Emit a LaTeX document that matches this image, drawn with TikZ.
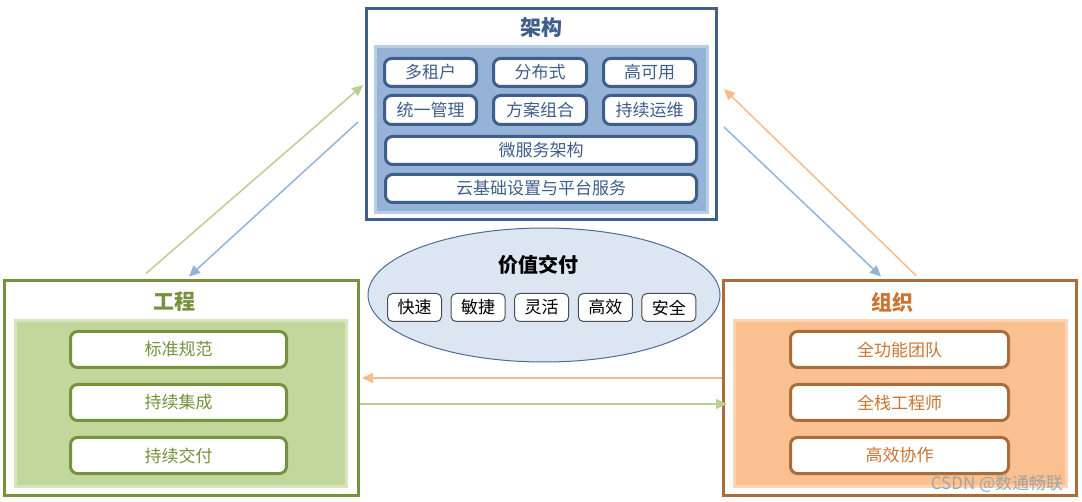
\documentclass[tikz,border=0pt]{standalone}
\usepackage{fontspec}
\setmainfont{Noto Sans CJK SC}
\usetikzlibrary{arrows.meta,positioning,shapes.geometric,calc}

\definecolor{archline}{HTML}{3F5F8A}
\definecolor{archfill}{HTML}{95B3D7}
\definecolor{archedge}{HTML}{B9CDE5}
\definecolor{engline}{HTML}{76923C}
\definecolor{engfill}{HTML}{C3D69B}
\definecolor{engedge}{HTML}{D7E4BD}
\definecolor{orgline}{HTML}{A96C3B}
\definecolor{orgtext}{HTML}{CC7431}
\definecolor{orgfill}{HTML}{FAC090}
\definecolor{orgedge}{HTML}{FCD5B5}
\definecolor{valfill}{HTML}{DCE6F2}
\definecolor{valline}{HTML}{4F6B94}
\definecolor{valgray}{HTML}{4D4D4D}
\definecolor{greenarrow}{HTML}{B9CF93}
\definecolor{bluearrow}{HTML}{95B3D7}
\definecolor{orangearrow}{HTML}{F8BC8C}
\definecolor{markgray}{HTML}{A3A3A3}

\begin{document}
\begin{tikzpicture}[x=1pt,y=-1pt,
  every node/.style={font=\fontsize{17}{20}\selectfont,inner sep=0pt},
  bigbox/.style={draw=#1,line width=3pt,fill=white},
  panelbox/.style={line width=3pt},
  itembox/.style={draw=#1,line width=3pt,fill=white,rounded corners=7pt},
  headtext/.style={text=#1,font=\fontsize{21}{24}\selectfont\bfseries},
  valbox/.style={draw=valgray,line width=1pt,fill=white,rounded corners=5pt,
    minimum width=54pt,minimum height=28pt},
  link/.style={line width=1.5pt,-{Triangle[length=11pt,width=10pt]}}]
  \useasboundingbox (0,0) rectangle (1082,502);

  % 架构
  \node[bigbox=archline,minimum width=350pt,minimum height=211pt] (arch) at (541.5,114) {};
  \node[panelbox,draw=archedge,fill=archfill,minimum width=332pt,minimum height=166pt] (archP) at (541.5,129.5) {};
  \node[headtext=archline] (archT) at (541.5,28) {架构};
  \node[itembox=archline,text=archline,minimum width=92pt,minimum height=28pt] (a1) at (430.5,72.5) {多租户};
  \node[itembox=archline,text=archline,minimum width=93pt,minimum height=28pt] (a2) at (540,72.5) {分布式};
  \node[itembox=archline,text=archline,minimum width=92pt,minimum height=28pt] (a3) at (649.5,72.5) {高可用};
  \node[itembox=archline,text=archline,minimum width=92pt,minimum height=29pt] (a4) at (430.5,110) {统一管理};
  \node[itembox=archline,text=archline,minimum width=93pt,minimum height=29pt] (a5) at (540,110) {方案组合};
  \node[itembox=archline,text=archline,minimum width=92pt,minimum height=29pt] (a6) at (649.5,110) {持续运维};
  \node[itembox=archline,text=archline,minimum width=311pt,minimum height=28pt] (a7) at (541,150.5) {微服务架构};
  \node[itembox=archline,text=archline,minimum width=311pt,minimum height=28pt] (a8) at (541,188.5) {云基础设置与平台服务};

  % 工程
  \node[bigbox=engline,minimum width=354pt,minimum height=214pt] (eng) at (181.5,388) {};
  \node[panelbox,draw=engedge,fill=engfill,minimum width=331pt,minimum height=166pt] (engP) at (181,403.5) {};
  \node[headtext=engline] (engT) at (174,302) {工程};
  \node[itembox=engline,text=engline,minimum width=216pt,minimum height=36pt] (e1) at (178.5,349.5) {标准规范};
  \node[itembox=engline,text=engline,minimum width=216pt,minimum height=36pt] (e2) at (178.5,402.5) {持续集成};
  \node[itembox=engline,text=engline,minimum width=216pt,minimum height=36pt] (e3) at (178.5,455.5) {持续交付};

  % 组织
  \node[bigbox=orgline,minimum width=353pt,minimum height=214pt] (org) at (900,388) {};
  \node[panelbox,draw=orgedge,fill=orgfill,minimum width=332pt,minimum height=166pt] (orgP) at (900.5,403.5) {};
  \node[headtext=orgtext] (orgT) at (892,302) {组织};
  \node[itembox=orgline,text=orgtext,minimum width=218pt,minimum height=36pt] (o1) at (899.5,349.5) {全功能团队};
  \node[itembox=orgline,text=orgtext,minimum width=218pt,minimum height=36pt] (o2) at (899.5,402.5) {全栈工程师};
  \node[itembox=orgline,text=orgtext,minimum width=218pt,minimum height=36pt] (o3) at (899.5,455.5) {高效协作};
  \node[text=markgray,font=\fontsize{17}{19}\selectfont] (mark) at (997,484) {CSDN @数通畅联};

  % 价值交付
  \node[ellipse,draw=valline,fill=valfill,line width=1pt,minimum width=352pt,minimum height=134pt] (val) at (544,295) {};
  \node[headtext=black,font=\fontsize{20}{24}\selectfont\bfseries] (valT) at (538,265) {价值交付};
  \foreach \t [count=\i] in {快速,敏捷,灵活,高效,安全}
    \node[valbox] (v\i) at (414.5+63.6*\i-63.6,307.5) {\t};

  % arrows
  \draw[link,greenarrow] ($(eng.north west)+(143,-6)$) -- ($(arch.north west)+(-2,78)$);
  \draw[link,bluearrow] ($(arch.north west)+(-7,115)$) -- ($(eng.north west)+(186,-3)$);
  \draw[link,orangearrow] ($(org.north west)+(194,-4)$) -- ($(arch.north east)+(6,82)$);
  \draw[link,bluearrow] ($(arch.north east)+(6,120)$) -- ($(org.north west)+(159,-3)$);
  \draw[link,orangearrow] ($(org.west)+(0,-10)$) -- ($(eng.east)+(2,-10)$);
  \draw[link,greenarrow] ($(eng.east)+(0,16)$) -- ($(org.west)+(5,16)$);
\end{tikzpicture}
\end{document}
